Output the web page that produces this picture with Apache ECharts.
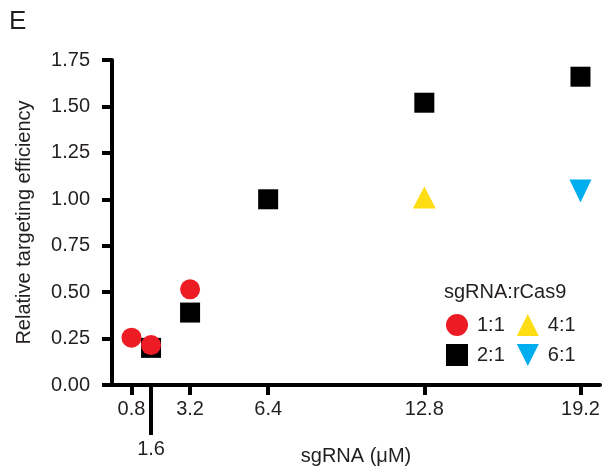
<!DOCTYPE html>
<html>
<head>
<meta charset="utf-8">
<script src="https://cdn.jsdelivr.net/npm/echarts@6/dist/echarts.min.js"></script>
<style>
  html, body { margin: 0; padding: 0; background: #fff; }
  #chart { width: 604px; height: 468px; }
</style>
</head>
<body>
<div id="chart"></div>
<script>
// x ticks (sgRNA, µM)
const xTicks = [0.8, 3.2, 6.4, 12.8, 19.2]
const xTickLow = [1.6]

// series values [sgRNA µM, relative efficiency]
const ratio11 = [[0.8, 0.255], [1.6, 0.215], [3.2, 0.515]]
const ratio21 = [[1.6, 0.20], [3.2, 0.39], [6.4, 1.00], [12.8, 1.52], [19.2, 1.66]]
const ratio41 = [[12.8, 1.01]]
const ratio61 = [[19.2, 1.045]]

const font = 'Liberation Sans, Arial, sans-serif'
const ink = '#231f20'
const downTri = 'path://M0,0 L2,0 L1,2 Z'
const upTri = 'path://M1,0 L2,2 L0,2 Z'

const chart = echarts.init(document.getElementById('chart'))

const legendBase = {
  left: 446,
  orient: 'horizontal',
  padding: 0,
  itemWidth: 22,
  itemHeight: 22,
  itemGap: 12,
  textStyle: { fontFamily: font, fontSize: 20, color: ink, padding: [0, 0, 0, 4] },
  selectedMode: false
}

chart.setOption({
  animation: false,
  title: [
    { text: 'E', left: 9, top: 9, padding: 0, textStyle: { fontFamily: font, fontSize: 26, fontWeight: 'normal', color: ink } },
    { text: 'sgRNA:rCas9', left: 444, top: 282, padding: 0, textStyle: { fontFamily: font, fontSize: 20, fontWeight: 'normal', color: ink } }
  ],
  legend: [
    Object.assign({}, legendBase, { top: 314, data: ['1:1', '4:1'] }),
    Object.assign({}, legendBase, { top: 344, data: ['2:1', '6:1'] })
  ],
  grid: { left: 112, right: 4, top: 60, bottom: 83, outerBoundsMode: 'none' },
  xAxis: [
    {
      type: 'value',
      min: 0,
      max: 20,
      position: 'bottom',
      name: 'sgRNA (μM)',
      nameLocation: 'middle',
      nameGap: 61,
      nameTextStyle: { fontFamily: font, fontSize: 20, color: ink },
      axisLine: { lineStyle: { color: '#000', width: 4 } },
      axisTick: { customValues: xTicks, length: 10, lineStyle: { color: '#000', width: 4 } },
      axisLabel: { customValues: xTicks, margin: 14, fontFamily: font, fontSize: 20, color: ink },
      splitLine: { show: false }
    },
    {
      type: 'value',
      min: 0,
      max: 20,
      position: 'bottom',
      offset: 0,
      axisLine: { show: false },
      axisTick: { customValues: xTickLow, length: 50, lineStyle: { color: '#000', width: 4 } },
      axisLabel: { customValues: xTickLow, margin: 54, fontFamily: font, fontSize: 20, color: ink },
      splitLine: { show: false }
    }
  ],
  yAxis: {
    type: 'value',
    min: 0,
    max: 1.75,
    interval: 0.25,
    name: 'Relative targeting efficiency',
    nameLocation: 'middle',
    nameGap: 78,
    nameTextStyle: { fontFamily: font, fontSize: 20, color: ink },
    axisLine: { show: true, lineStyle: { color: '#000', width: 4 } },
    axisTick: { show: true, length: 10, lineStyle: { color: '#000', width: 4 } },
    axisLabel: { margin: 22, fontFamily: font, fontSize: 20, color: ink, formatter: v => v.toFixed(2) },
    splitLine: { show: false }
  },
  series: [
    {
      name: '2:1', type: 'scatter', data: ratio21, symbol: 'rect', symbolSize: 20,
      itemStyle: { color: '#000', opacity: 1 }, z: 2
    },
    {
      name: '1:1', type: 'scatter', data: ratio11, symbol: 'circle', symbolSize: 20,
      itemStyle: { color: '#ed1c24', opacity: 1 }, z: 3
    },
    {
      name: '4:1', type: 'scatter', data: ratio41, symbol: upTri, symbolSize: [23, 22],
      itemStyle: { color: '#ffdd15', opacity: 1 }, z: 2
    },
    {
      name: '6:1', type: 'scatter', data: ratio61, symbol: downTri, symbolSize: [22, 23],
      itemStyle: { color: '#00aeef', opacity: 1 }, z: 2
    }
  ]
})
</script>
</body>
</html>
